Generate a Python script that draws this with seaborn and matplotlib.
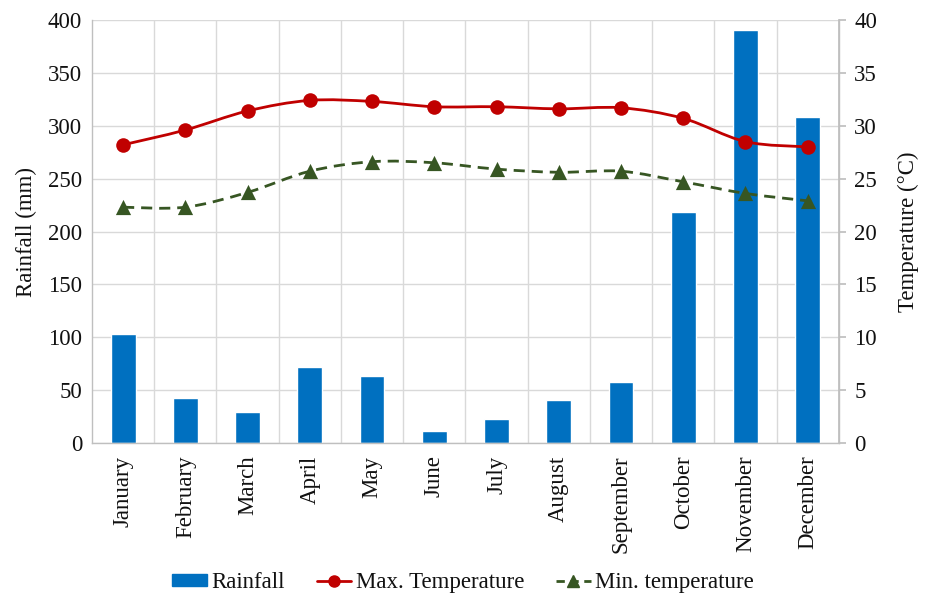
import numpy as np
import pandas as pd
import matplotlib
matplotlib.use("Agg")
import matplotlib.pyplot as plt
from matplotlib.path import Path
from matplotlib.patches import PathPatch, Patch
from matplotlib.lines import Line2D
import seaborn as sns

months = ["January", "February", "March", "April", "May", "June", "July",
          "August", "September", "October", "November", "December"]
rainfall = [103, 43, 29, 72, 63, 11, 23, 41, 58, 218, 391, 308]
max_temp = [28.2, 29.6, 31.4, 32.4, 32.3, 31.8, 31.8, 31.6, 31.7, 30.7, 28.5, 28.0]
min_temp = [22.3, 22.3, 23.7, 25.7, 26.6, 26.5, 25.9, 25.6, 25.7, 24.7, 23.6, 22.9]

BLUE = "#0070C0"
RED = "#C00000"
GREEN = "#375623"
GRID = "#D9D9D9"
SPINE = "#BFBFBF"
TEXT = "#111111"

sns.set_theme(style="white")
plt.rcParams["font.family"] = ["Liberation Serif", "DejaVu Serif"]
plt.rcParams["text.color"] = TEXT
plt.rcParams["axes.labelcolor"] = TEXT
plt.rcParams["xtick.color"] = TEXT
plt.rcParams["ytick.color"] = TEXT
FS = 16.5

df = pd.DataFrame({"month": months, "rain": rainfall})

fig = plt.figure(figsize=(9.28, 5.94), dpi=100)
ax = fig.add_axes([0.0991, 0.2542, 0.8048, 0.7121])

sns.barplot(data=df, x="month", y="rain", color=BLUE, width=0.4,
            saturation=1, ax=ax, zorder=2)
ax.set_xlim(-0.5, 11.5)
ax.set_ylim(0, 400)
ax.set_yticks(np.arange(0, 401, 50))
ax.set_xticks(np.arange(12))
ax.set_xticklabels(months, rotation=90, fontsize=FS)
ax.tick_params(axis="y", labelsize=FS, length=0, pad=7)
ax.tick_params(axis="x", length=0, pad=9)
ax.set_xlabel("")
ax.set_ylabel("Rainfall (mm)", fontsize=FS, labelpad=8)

# horizontal gridlines at the rainfall ticks, vertical ones between months
ax.yaxis.grid(True, color=GRID, linewidth=1, zorder=0)
for b in np.arange(0.5, 11.5, 1.0):
    ax.axvline(b, color=GRID, linewidth=1, zorder=0)
ax.set_axisbelow(True)
for side in ["left", "bottom", "right"]:
    ax.spines[side].set_color(SPINE)
    ax.spines[side].set_linewidth(1)
ax.spines["top"].set_visible(False)

ax2 = ax.twinx()
ax2.set_ylim(0, 40)
ax2.set_yticks(np.arange(0, 41, 5))
ax2.tick_params(axis="y", labelsize=FS, length=5, color=SPINE, pad=6)
ax2.set_ylabel("Temperature (°C)", fontsize=FS, labelpad=15)
for side in ["left", "bottom", "top"]:
    ax2.spines[side].set_visible(False)
ax2.spines["right"].set_color(SPINE)


def smooth_path(xs, ys):
    """Cubic Bezier segments through the points (Catmull-Rom style)."""
    pts = np.column_stack([xs, ys]).astype(float)
    n = len(pts)
    verts = [pts[0]]
    codes = [Path.MOVETO]
    for i in range(n - 1):
        p0 = pts[i - 1] if i > 0 else pts[i]
        p1 = pts[i]
        p2 = pts[i + 1]
        p3 = pts[i + 2] if i + 2 < n else pts[i + 1]
        c1 = p1 + (p2 - p0) / 6.0
        c2 = p2 - (p3 - p1) / 6.0
        verts += [c1, c2, p2]
        codes += [Path.CURVE4] * 3
    return Path(verts, codes)


xpos = np.arange(len(months))
ax2.add_patch(PathPatch(smooth_path(xpos, max_temp), fill=False,
                        edgecolor=RED, linewidth=2, zorder=3))
ax2.add_patch(PathPatch(smooth_path(xpos, min_temp), fill=False,
                        edgecolor=GREEN, linewidth=2, linestyle=(0, (4, 2.5)),
                        zorder=3))
sns.scatterplot(x=xpos, y=max_temp, marker="o", s=110, color=RED,
                edgecolor=RED, linewidth=0, ax=ax2, zorder=4)
sns.scatterplot(x=xpos, y=min_temp, marker="^", s=120, color=GREEN,
                edgecolor=GREEN, linewidth=0, ax=ax2, zorder=4)
ax2.set_xlim(-0.5, 11.5)

handles = [
    Patch(facecolor=BLUE, edgecolor=BLUE, label="Rainfall"),
    Line2D([], [], color=RED, linewidth=2, marker="o", markersize=8,
           label="Max. Temperature"),
    Line2D([], [], color=GREEN, linewidth=2, linestyle=(0, (3, 2)),
           marker="^", markersize=8, label="Min. temperature"),
]
fig.legend(handles=handles, loc="center", bbox_to_anchor=(0.499, 0.019),
           ncol=3, frameon=False, fontsize=FS, handlelength=1.5,
           handleheight=0.45, handletextpad=0.2, columnspacing=1.4,
           borderpad=0.1)

fig.savefig("out.png", dpi=100)
